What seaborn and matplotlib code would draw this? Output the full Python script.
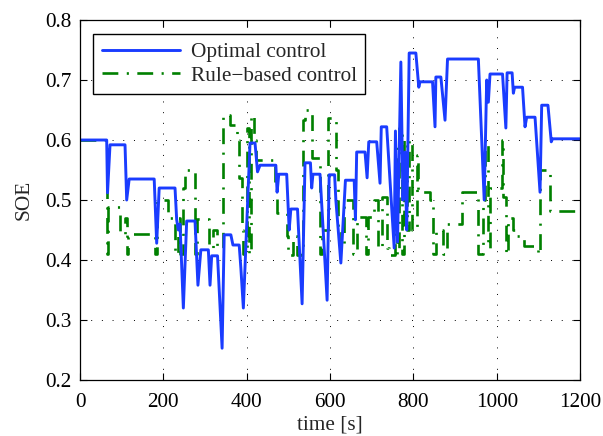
import numpy as np
import pandas as pd
import matplotlib
matplotlib.use("Agg")
import matplotlib.pyplot as plt
import seaborn as sns

# time [s] / SOE
blue_t = [0, 64, 66, 72, 108, 112, 118, 178, 184, 190,
          228, 232, 236, 240, 248, 256, 276, 283, 290, 308,
          312, 316, 330, 341, 346, 362, 367, 382, 386, 392,
          408, 420, 426, 432, 470, 473, 477, 496, 502, 506,
          522, 533, 540, 553, 556, 559, 576, 593, 598, 611,
          614, 626, 637, 658, 661, 664, 684, 689, 693, 712,
          720, 723, 736, 754, 757, 762, 770, 775, 780, 784,
          790, 806, 813, 816, 846, 852, 854, 866, 876, 882,
          956, 970, 976, 980, 984, 1014, 1022, 1025, 1037, 1040,
          1043, 1062, 1068, 1072, 1092, 1104, 1108, 1123, 1131, 1134,
          1200]
blue_v = [0.6, 0.6, 0.512, 0.592, 0.592, 0.5, 0.535, 0.535, 0.428, 0.52,
          0.52, 0.467, 0.45, 0.46, 0.32, 0.465, 0.465, 0.358, 0.417, 0.417,
          0.358, 0.407, 0.407, 0.253, 0.442, 0.442, 0.425, 0.425, 0.387, 0.32,
          0.595, 0.595, 0.547, 0.558, 0.558, 0.513, 0.543, 0.543, 0.45, 0.485,
          0.485, 0.327, 0.562, 0.562, 0.52, 0.543, 0.543, 0.333, 0.542, 0.542,
          0.5, 0.395, 0.533, 0.533, 0.467, 0.58, 0.58, 0.537, 0.597, 0.597,
          0.528, 0.622, 0.622, 0.42, 0.615, 0.43, 0.73, 0.5, 0.58, 0.45,
          0.745, 0.745, 0.688, 0.697, 0.697, 0.622, 0.705, 0.705, 0.633, 0.735,
          0.735, 0.5, 0.7, 0.663, 0.71, 0.71, 0.62, 0.712, 0.712, 0.678,
          0.688, 0.688, 0.622, 0.638, 0.638, 0.513, 0.658, 0.658, 0.597, 0.602,
          0.602]

# rule based: switching steps
green_t = [0, 64, 66, 96, 108, 112, 116, 180, 184, 212,
           228, 234, 240, 246, 252, 276, 280, 310, 320, 328,
           342, 360, 376, 382, 388, 392, 400, 406, 410, 418,
           422, 468, 472, 496, 500, 510, 520, 532, 536, 540,
           556, 576, 580, 596, 614, 618, 626, 634, 656, 664,
           686, 690, 706, 716, 724, 736, 742, 756, 760, 766,
           772, 778, 784, 790, 796, 808, 812, 840, 848, 854,
           872, 880, 916, 956, 966, 972, 978, 984, 1012, 1016,
           1022, 1028, 1040, 1044, 1066, 1100, 1104, 1128, 1200]
green_v = [0.6, 0.41, 0.488, 0.443, 0.47, 0.41, 0.443, 0.41, 0.5, 0.47,
           0.41, 0.47, 0.41, 0.52, 0.55, 0.41, 0.468, 0.42, 0.45, 0.42,
           0.642, 0.625, 0.6, 0.536, 0.45, 0.41, 0.62, 0.41, 0.642, 0.6,
           0.567, 0.53, 0.478, 0.44, 0.408, 0.44, 0.408, 0.41, 0.633, 0.65,
           0.57, 0.41, 0.45, 0.637, 0.55, 0.45, 0.42, 0.5, 0.41, 0.471,
           0.41, 0.471, 0.5, 0.42, 0.505, 0.42, 0.408, 0.6, 0.41, 0.62,
           0.41, 0.6, 0.45, 0.6, 0.45, 0.575, 0.513, 0.5, 0.41, 0.45,
           0.41, 0.46, 0.513, 0.41, 0.5, 0.6, 0.42, 0.52, 0.6, 0.505,
           0.41, 0.47, 0.45, 0.44, 0.424, 0.41, 0.55, 0.482, 0.482]

opt = pd.DataFrame({"t": blue_t, "soe": blue_v})
rule = pd.DataFrame({"t": green_t, "soe": green_v})

sns.set_style("ticks")
plt.rcParams['font.family'] = ['Liberation Serif', 'DejaVu Serif']
plt.rcParams['font.size'] = 15.3

fig = plt.figure(figsize=(6.03, 4.36), dpi=100)
ax = fig.add_axes([0.1327, 0.1284, 0.8292, 0.8257])

sns.lineplot(data=rule, x="t", y="soe", ax=ax, color="#008000", lw=1.9,
             estimator=None, sort=False, drawstyle="steps-post",
             linestyle=(0, (6.0, 3.2, 0.8, 3.2)), label="Rule\u2212based control")
sns.lineplot(data=opt, x="t", y="soe", ax=ax, color="#1a3cff", lw=2.1,
             estimator=None, sort=False, label="Optimal control")

ax.set_xlim(0, 1200)
ax.set_ylim(0.2, 0.8)
ax.set_xticks(np.arange(0, 1201, 200))
ax.set_yticks(np.arange(0.2, 0.81, 0.1))
ax.set_yticklabels(["0.2", "0.3", "0.4", "0.5", "0.6", "0.7", "0.8"])
ax.set_xlabel("time [s]", labelpad=3)
ax.set_ylabel("SOE", labelpad=8)
ax.grid(True, color="black", linestyle=(0, (1, 10)), lw=0.7)
ax.tick_params(direction="in", top=True, right=True, length=5, width=0.8,
               labelsize=15.3, colors="black")
ax.tick_params(axis="x", pad=9)
ax.tick_params(axis="y", pad=6)
for s in ax.spines.values():
    s.set_visible(True)
    s.set_linewidth(0.9)
    s.set_color("black")

h, l = ax.get_legend_handles_labels()
leg = ax.legend(h[::-1], l[::-1], loc="upper left", bbox_to_anchor=(0.026, 0.962),
                borderaxespad=0, fancybox=False, frameon=True, edgecolor="black",
                framealpha=1, handlelength=3.7, handletextpad=0.5,
                labelspacing=0.18, borderpad=0.4, fontsize=15.3)
leg.get_frame().set_linewidth(1.0)

fig.savefig("out.png", dpi=100)
